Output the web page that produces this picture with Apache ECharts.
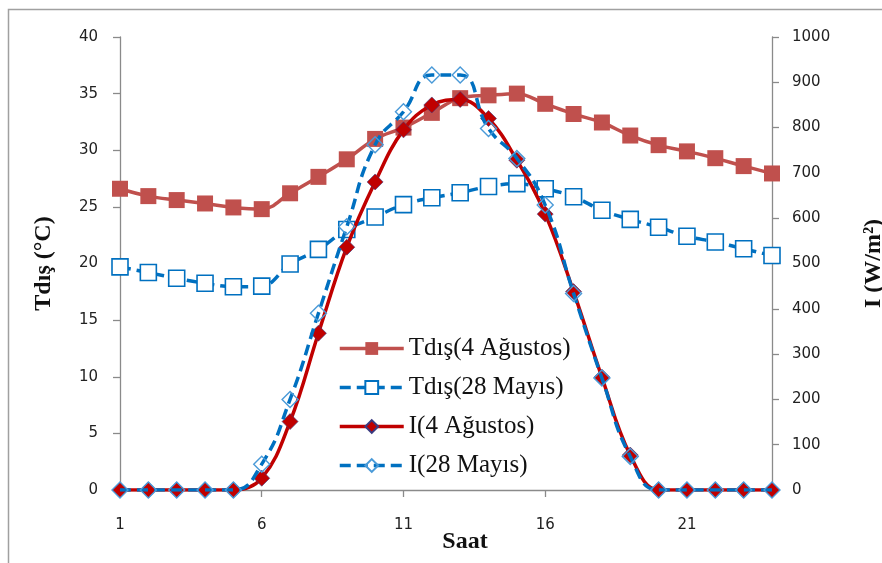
<!DOCTYPE html>
<html>
<head>
<meta charset="utf-8">
<script src="https://cdn.jsdelivr.net/npm/echarts@6/dist/echarts.min.js"></script>
<style>
html,body{margin:0;padding:0;background:#fff;}
#c{width:882px;height:563px;}
</style>
</head>
<body>
<div id="c"></div>
<script>
const hours = ['1','2','3','4','5','6','7','8','9','10','11','12','13','14','15','16','17','18','19','20','21','22','23','24'];
const tAug = [26.6, 25.95, 25.6, 25.3, 24.95, 24.8, 26.2, 27.65, 29.2, 31.0, 32.0, 33.3, 34.6, 34.85, 35.0, 34.1, 33.2, 32.45, 31.3, 30.45, 29.9, 29.3, 28.6, 27.95];
const tMay = [19.7, 19.2, 18.7, 18.25, 17.95, 18.0, 19.95, 21.25, 23.0, 24.1, 25.2, 25.8, 26.25, 26.8, 27.05, 26.6, 25.9, 24.7, 23.9, 23.2, 22.4, 21.9, 21.3, 20.7];
const iAug = [0, 0, 0, 0, 0, 26, 151, 346, 536, 680, 795, 850, 862, 820, 728, 609, 438, 249, 77, 0, 0, 0, 0, 0];
const iMay = [0, 0, 0, 0, 0, 57, 200, 390, 581, 762, 835, 916, 916, 798, 732, 629, 434, 247, 74, 0, 0, 0, 0, 0];
const names = ['Tdış(4 Ağustos)', 'Tdış(28 Mayıs)', 'I(4 Ağustos)', 'I(28 Mayıs)'];
const leftTicks = {min: 0, max: 40, interval: 5};
const rightTicks = {min: 0, max: 1000, interval: 100};

const chart = echarts.init(document.getElementById('c'), null, {renderer: 'canvas'});
const axisLineStyle = {color: '#8a8a8a', width: 1.3};
const tickFont = {fontFamily: 'DejaVu Sans', fontSize: 15, color: '#222'};
const nameFont = {fontFamily: 'Liberation Serif', fontSize: 24, fontWeight: 'bold', color: '#111'};
const blue = '#0070C0';

chart.setOption({
  backgroundColor: '#fff',
  animation: false,
  graphic: [{
    type: 'rect', shape: {x: 8.5, y: 9.5, width: 900, height: 600},
    style: {fill: 'none', stroke: '#a0a0a0', lineWidth: 1.5}, z: -10
  }],
  grid: {left: 120, right: 110, top: 37, bottom: 73, outerBoundsMode: 'none', containLabel: false},
  legend: {
    orient: 'vertical', left: 333, top: 331,
    itemWidth: 64, itemHeight: 16, itemGap: 14,
    lineStyle: {width: 3.5},
    textStyle: {fontFamily: 'Liberation Serif', fontSize: 25, color: '#111'},
    data: names
  },
  xAxis: {
    type: 'category', data: hours, boundaryGap: false,
    name: 'Saat', nameLocation: 'middle', nameGap: 40, nameMoveOverlap: false,
    nameTextStyle: Object.assign({}, nameFont, {padding: [0, 0, 0, 38]}),
    axisLine: {lineStyle: axisLineStyle},
    axisTick: {interval: 4, length: 7, lineStyle: axisLineStyle},
    axisLabel: Object.assign({interval: 4, margin: 28}, tickFont),
    splitLine: {show: false}
  },
  yAxis: [{
    type: 'value', min: leftTicks.min, max: leftTicks.max, interval: leftTicks.interval,
    name: 'Tdış (°C)', nameLocation: 'middle', nameGap: 64, nameTextStyle: nameFont,
    axisLine: {show: true, lineStyle: axisLineStyle},
    axisTick: {show: true, length: 7, lineStyle: axisLineStyle},
    axisLabel: Object.assign({margin: 22}, tickFont),
    splitLine: {show: false}
  }, {
    type: 'value', min: rightTicks.min, max: rightTicks.max, interval: rightTicks.interval,
    name: 'I (W/m²)', nameLocation: 'middle', nameGap: 90, nameTextStyle: nameFont,
    axisLine: {show: true, lineStyle: axisLineStyle},
    axisTick: {show: true, length: 7, lineStyle: axisLineStyle},
    axisLabel: Object.assign({margin: 20, formatter: v => String(v)}, tickFont),
    splitLine: {show: false}
  }],
  series: [{
    name: names[0], type: 'line', yAxisIndex: 0, data: tAug, smooth: 0.4,
    symbol: 'rect', symbolSize: 16,
    lineStyle: {color: '#C0504D', width: 3.5},
    itemStyle: {color: '#C0504D'}, z: 2
  }, {
    name: names[1], type: 'line', yAxisIndex: 0, data: tMay, smooth: 0.4,
    symbol: 'rect', symbolSize: 16,
    lineStyle: {color: blue, width: 3.5, type: [11, 6]},
    itemStyle: {color: '#fff', borderColor: blue, borderWidth: 1.6}, z: 3
  }, {
    name: names[2], type: 'line', yAxisIndex: 1, data: iAug, smooth: 0.4,
    symbol: 'diamond', symbolSize: 16,
    lineStyle: {color: '#C00000', width: 3.5},
    itemStyle: {color: '#C00000', borderColor: '#3b3b80', borderWidth: 0.6}, z: 4
  }, {
    name: names[3], type: 'line', yAxisIndex: 1, data: iMay, smooth: 0.5,
    symbol: 'diamond', symbolSize: 16,
    lineStyle: {color: blue, width: 3.5, type: [11, 6]},
    itemStyle: {color: 'rgba(255,255,255,0)', borderColor: '#4a9ad8', borderWidth: 1.4}, z: 5
  }]
});
</script>
</body>
</html>
